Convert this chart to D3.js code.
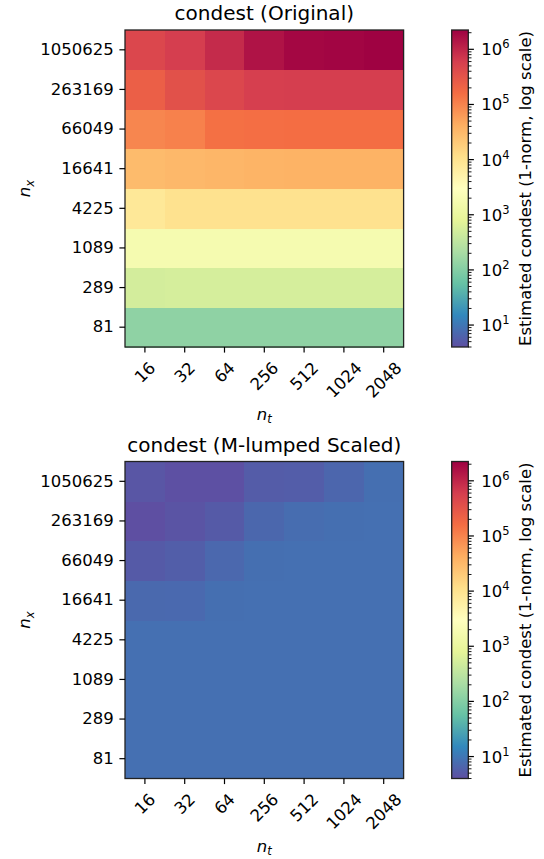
<html>
<head>
<meta charset="utf-8">
<script src="https://d3js.org/d3.v7.min.js"></script>
<style>
body{margin:0;background:#fff;}
text{font-family:"DejaVu Sans",sans-serif;fill:#000;}
</style>
</head>
<body>
<script>
// tick labels
var nt = ["16","32","64","256","512","1024","2048"];
var nx = ["81","289","1089","4225","16641","66049","263169","1050625"];

// condest values, one row per nx (81 first), one column per nt
var condOriginal = [
  [125,125,125,125,125,125,125],
  [520,540,540,540,540,540,540],
  [1800,1800,1800,1800,1800,1800,1800],
  [8000,10200,10200,10200,10200,10200,10200],
  [30000,32000,34000,36000,37000,37000,37000],
  [95000,105000,150000,155000,160000,160000,160000],
  [235000,350000,460000,580000,600000,600000,600000],
  [460000,600000,900000,1500000,1950000,2050000,2200000]
];
var condScaled = [
  [8.6,8.6,8.6,8.6,8.6,8.6,8.6],
  [8.6,8.6,8.6,8.6,8.6,8.6,8.6],
  [8.6,8.6,8.6,8.6,8.6,8.6,8.6],
  [8.6,8.6,8.6,8.6,8.6,8.6,8.6],
  [7.3,7.4,8.5,8.6,8.6,8.6,8.6],
  [5.2,5.7,7.1,8.4,8.6,8.6,8.6],
  [4.0,4.5,5.2,7.0,8.1,8.5,8.6],
  [4.7,4.1,4.1,5.4,5.6,6.9,8.4]
];
var titles = ["condest (Original)", "condest (M-lumped Scaled)"];
var cmin = 4, cmax = 2.24e6;
// Spectral_r colour stops
var spectralR = ["#5e4fa2","#3288bd","#66c2a5","#abdda4","#e6f598","#ffffbf","#fee08b","#fdae61","#f46d43","#d53e4f","#9e0142"];

var W = 544, H = 859;
var FS = 16.5;
var svg = d3.select("body").append("svg").attr("width", W).attr("height", H);

var tScale = d3.scaleLog().domain([cmin, cmax]).range([0, 1]);
var colStops = d3.scaleLinear().domain(d3.range(spectralR.length).map(function(i){return i/(spectralR.length-1);})).range(spectralR).clamp(true);
function color(v){ return colStops(tScale(v)); }

// gradient for colour bar
var defs = svg.append("defs");
var grad = defs.append("linearGradient").attr("id","cbar").attr("x1",0).attr("y1",1).attr("x2",0).attr("y2",0);
spectralR.forEach(function(c,i){
  grad.append("stop").attr("offset", (i/(spectralR.length-1))*100+"%").attr("stop-color", c);
});

function panel(data, title, top){
  var left = 125, right = 403.6, bottom = top + 317;
  var x = d3.scaleBand().domain(nt).range([left, right]);
  var y = d3.scaleBand().domain(nx).range([bottom, top]);
  var g = svg.append("g");

  g.append("text").attr("x", (left+right)/2).attr("y", top-10).attr("text-anchor","middle")
    .style("font-size","20px").text(title);

  data.forEach(function(row, i){
    row.forEach(function(v, j){
      g.append("rect").attr("x", x(nt[j])).attr("y", y(nx[i]))
        .attr("width", x.bandwidth()+0.6).attr("height", y.bandwidth()+0.6)
        .attr("shape-rendering","crispEdges")
        .attr("fill", color(v));
    });
  });
  g.append("rect").attr("x",left).attr("y",top).attr("width",right-left).attr("height",bottom-top)
    .attr("fill","none").attr("stroke","#222").attr("stroke-width",1.3);

  var ya = g.append("g").attr("transform","translate("+left+",0)")
    .call(d3.axisLeft(y).tickSize(5.6).tickPadding(5.6));
  ya.select(".domain").remove();
  ya.selectAll("line").attr("stroke-width",1.2);
  ya.selectAll("text").style("font-size",FS+"px").style("font-family","DejaVu Sans");

  var xa = g.append("g").attr("transform","translate(0,"+bottom+")")
    .call(d3.axisBottom(x).tickSize(5.6));
  xa.select(".domain").remove();
  xa.selectAll("line").attr("stroke-width",1.2);
  xa.selectAll("text").style("font-size",FS+"px").style("font-family","DejaVu Sans")
    .attr("text-anchor","middle").attr("dy","0.35em").attr("y",0).attr("x",0)
    .attr("transform", function(){
      var w = this.getComputedTextLength();
      var cy = 11.2 + (w + 19) * 0.3536;
      return "translate(0," + cy + ") rotate(-45)";
    });

  // axis labels
  var lx = g.append("text").attr("x", (left+right)/2).attr("y", bottom+73).attr("text-anchor","middle").style("font-size",FS+"px");
  lx.append("tspan").style("font-style","italic").text("n");
  lx.append("tspan").style("font-style","italic").style("font-size","11.5px").attr("dy",3).text("t");

  var ly = g.append("text").attr("transform","translate(30,"+((top+bottom)/2)+") rotate(-90)").attr("text-anchor","middle").style("font-size",FS+"px");
  ly.append("tspan").style("font-style","italic").text("n");
  ly.append("tspan").style("font-style","italic").style("font-size","11.5px").attr("dy",3.5).text("x");

  // colour bar
  var cb0 = 451.7, cb1 = 468.3;
  var cy = d3.scaleLog().domain([cmin, cmax]).range([bottom, top]);
  g.append("rect").attr("x",cb0).attr("y",top).attr("width",cb1-cb0).attr("height",bottom-top)
    .attr("fill","url(#cbar)").attr("stroke","#222").attr("stroke-width",1.3);
  var minor = [];
  for (var e = 0; e <= 6; e++) for (var m = 2; m <= 9; m++) {
    var v = m*Math.pow(10,e);
    if (v >= cmin && v <= cmax) minor.push(v);
  }
  g.selectAll(null).data(minor).enter().append("line")
    .attr("x1",cb1).attr("x2",cb1+3.2).attr("y1",function(d){return cy(d);}).attr("y2",function(d){return cy(d);})
    .attr("stroke","#000").attr("stroke-width",0.9);
  var majors = [1,2,3,4,5,6];
  g.selectAll(null).data(majors).enter().append("line")
    .attr("x1",cb1).attr("x2",cb1+5.6).attr("y1",function(d){return cy(Math.pow(10,d));}).attr("y2",function(d){return cy(Math.pow(10,d));})
    .attr("stroke","#000").attr("stroke-width",1.2);
  majors.forEach(function(d){
    var t = g.append("text").attr("x",cb1+13).attr("y",cy(Math.pow(10,d))+6).style("font-size",FS+"px");
    t.append("tspan").text("10");
    t.append("tspan").attr("dy",-7).style("font-size","11.5px").text(d);
  });
  g.append("text").attr("transform","translate(531,"+((top+bottom)/2)+") rotate(-90)")
    .attr("text-anchor","middle").style("font-size",FS+"px").text("Estimated condest (1-norm, log scale)");
}

panel(condOriginal, titles[0], 30);
panel(condScaled, titles[1], 461.5);
</script>
</body>
</html>
